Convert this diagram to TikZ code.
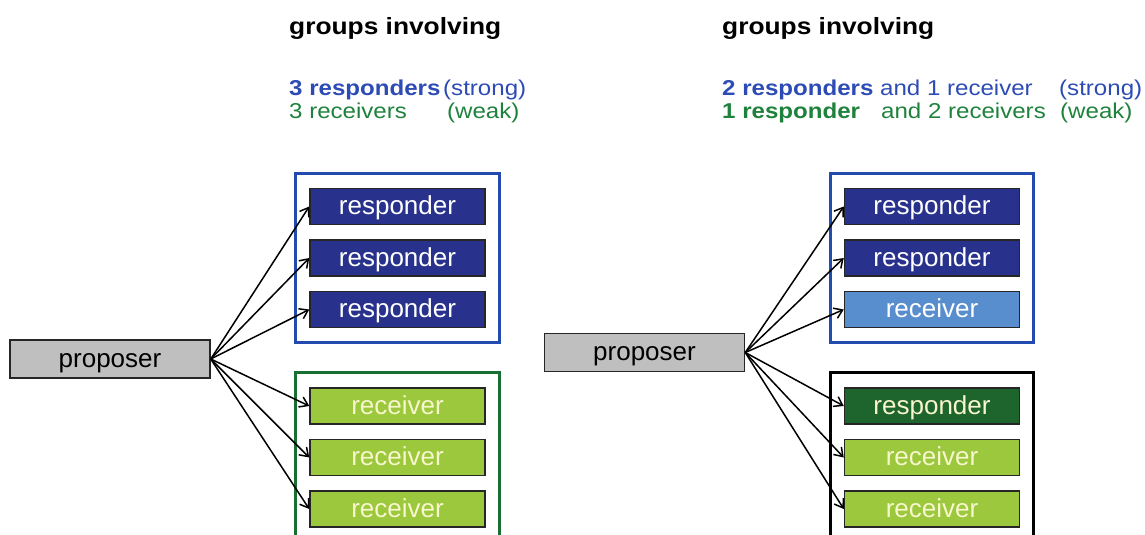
\documentclass[tikz,border=0pt]{standalone}
\usepackage{fontspec}
\setmainfont{Liberation Sans}
\newfontfamily\widefont{Liberation Sans}[FakeStretch=1.12]
\usepackage{tikz}
\usetikzlibrary{positioning}
\usetikzlibrary{fit}
\usetikzlibrary{arrows.meta}

\definecolor{navy}{RGB}{40,50,140}
\definecolor{skyblue}{RGB}{88,142,206}
\definecolor{darkgreen}{RGB}{30,100,45}
\definecolor{lime}{RGB}{155,200,60}
\definecolor{framblue}{RGB}{35,75,175}
\definecolor{framgreen}{RGB}{25,110,50}
\definecolor{txtblue}{RGB}{45,75,180}
\definecolor{txtgreen}{RGB}{30,130,60}
\definecolor{paleyellow}{RGB}{248,246,205}

\begin{document}
\begin{tikzpicture}[x=1pt,y=-1pt,
  box/.style={draw=black!85,line width=1.5pt,minimum width=175pt,minimum height=36pt,
    inner sep=0pt,text height=20pt,text depth=4pt,font=\fontsize{26}{30}\selectfont},
  resp/.style={box,fill=navy,text=white},
  recv/.style={box,fill=lime,text=paleyellow},
  frame/.style={draw,line width=3pt,inner xsep=13.5pt,inner ysep=14.5pt},
  prop/.style={box,minimum width=200pt,minimum height=38pt,fill=black!25,text=black},
  title/.style={anchor=base west,inner sep=0pt,font=\widefont\fontsize{23.5}{28}\selectfont\bfseries},
  sub/.style={anchor=base west,inner sep=0pt,font=\widefont\fontsize{21.5}{26}\selectfont},
  arr/.style={-{Straight Barb[length=8pt,width=11pt]},line width=1.5pt}]
  \useasboundingbox (0,0) rectangle (1145,535);

  % left: 3 responders / 3 receivers
  \node[title] (ltitle) at (289,34.5) {groups involving};
  \node[sub,text=txtblue] (lstrong) at (289,95.5) {\bfseries 3 responders};
  \node[sub,text=txtblue] (lstrongb) at (443,95.5) {(strong)};
  \node[sub,text=txtgreen] (lweak) at (289,118.5) {3 receivers};
  \node[sub,text=txtgreen] (lweakb) at (447,118.5) {(weak)};

  \node[prop] (lprop) at (110,359) {proposer};
  \node[resp] (la) at (397.5,206.5) {responder};
  \node[resp,below=14pt of la] (lb) {responder};
  \node[resp,below=14pt of lb] (lc) {responder};
  \node[recv] (ld) at (397.5,406) {receiver};
  \node[recv,below=14pt of ld] (le) {receiver};
  \node[recv,below=14pt of le] (lf) {receiver};
  \node[frame,draw=framblue,fit=(la)(lc)] (lbox1) {};
  \node[frame,draw=framgreen,fit=(ld)(lf)] (lbox2) {};
  \foreach \n in {la,lb,lc,ld,le,lf}
    \draw[arr] (lprop.east) -- (\n.west);

  % right: mixed groups
  \node[title] (rtitle) at (722,34.5) {groups involving};
  \node[sub,text=txtblue] (rstrong) at (722,95.5) {\bfseries 2 responders};
  \node[sub,text=txtblue] (rstrongb) at (880,95.5) {and 1 receiver};
  \node[sub,text=txtblue] (rstrongc) at (1059,95.5) {(strong)};
  \node[sub,text=txtgreen] (rweak) at (722,118.5) {\bfseries 1 responder};
  \node[sub,text=txtgreen] (rweakb) at (881,118.5) {and 2 receivers};
  \node[sub,text=txtgreen] (rweakc) at (1060,118.5) {(weak)};

  \node[prop] (rprop) at (644.5,352.5) {proposer};
  \node[resp] (ra) at (932,206.5) {responder};
  \node[resp,below=14pt of ra] (rb) {responder};
  \node[box,fill=skyblue,text=white,below=14pt of rb] (rc) {receiver};
  \node[resp,fill=darkgreen,text=paleyellow] (rd) at (932,406) {responder};
  \node[recv,below=14pt of rd] (re) {receiver};
  \node[recv,below=14pt of re] (rf) {receiver};
  \node[frame,draw=framblue,fit=(ra)(rc)] (rbox1) {};
  \node[frame,draw=black,fit=(rd)(rf)] (rbox2) {};
  \foreach \n in {ra,rb,rc,rd,re,rf}
    \draw[arr] (rprop.east) -- (\n.west);
\end{tikzpicture}
\end{document}
